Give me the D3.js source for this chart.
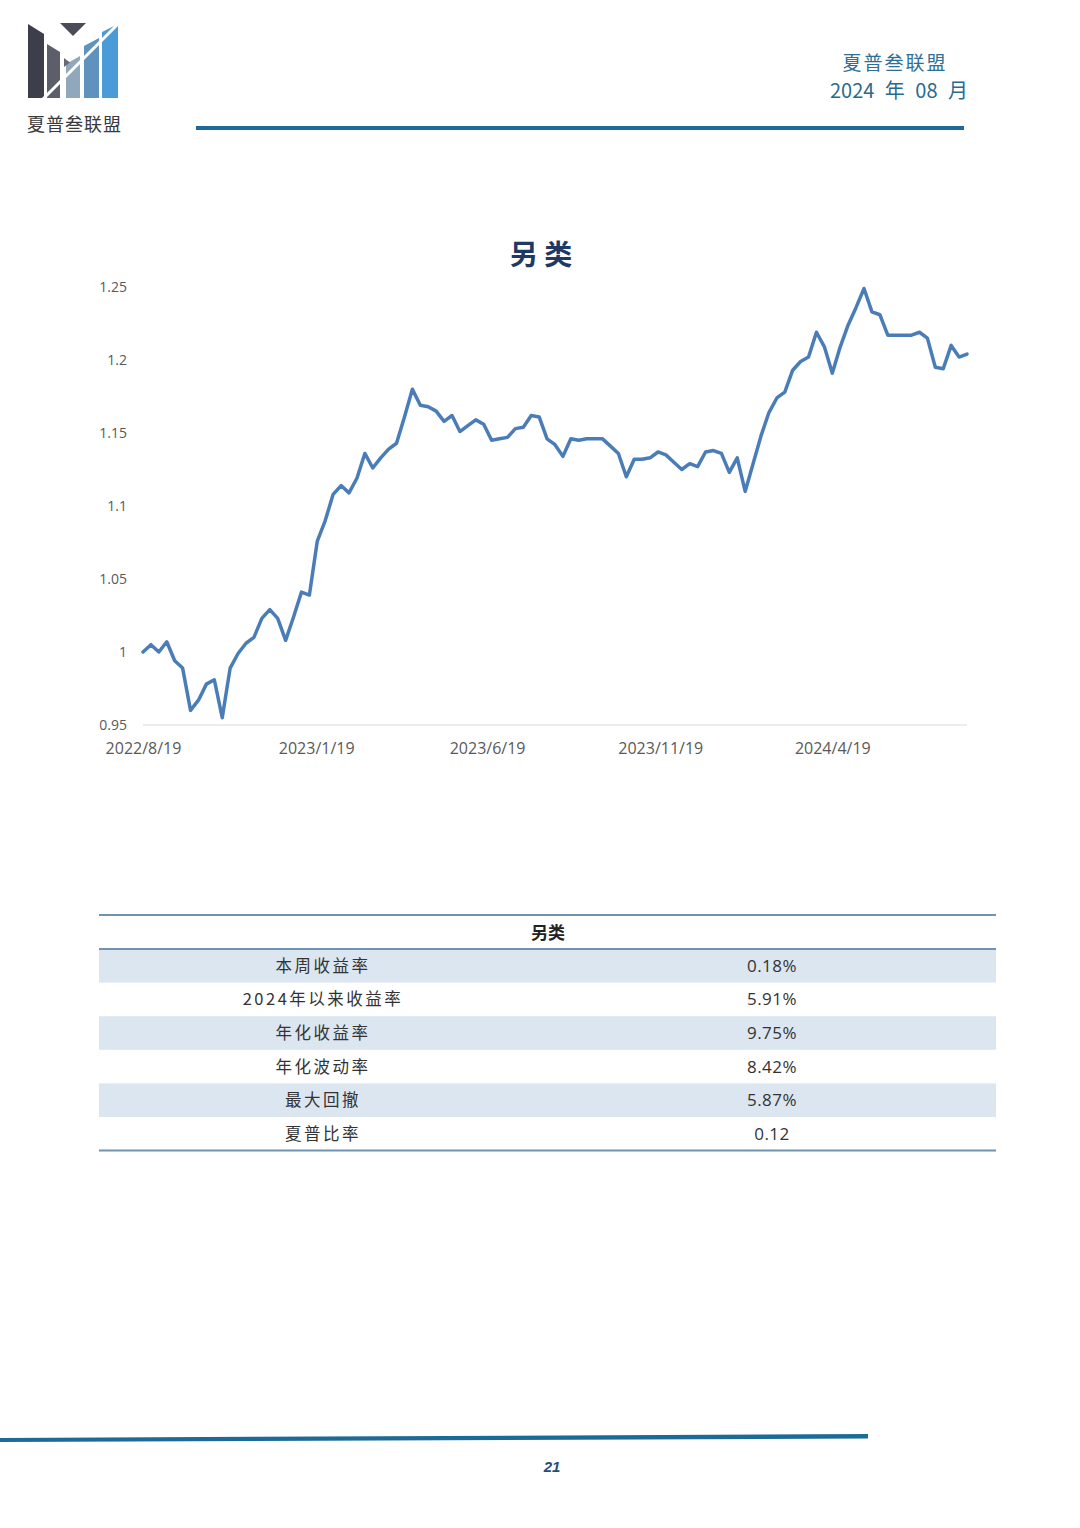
<!DOCTYPE html>
<html><head><meta charset="utf-8">
<script src="https://cdn.jsdelivr.net/npm/d3@7"></script>
<style>
html,body{margin:0;padding:0;background:#fff;}
svg{display:block;}
</style></head>
<body>
<svg id="page" width="1080" height="1528"></svg>
<script>
// ---------------- data ----------------
const startDate = "2022-08-19";           // first weekly observation
const values = [
 1.000,1.005,1.000,1.007,0.994,0.989,0.960,0.967,0.978,0.981,
 0.955,0.989,0.999,1.006,1.010,1.023,1.029,1.023,1.008,1.024,
 1.041,1.039,1.076,1.090,1.108,1.114,1.109,1.119,1.136,1.126,
 1.133,1.139,1.143,1.161,1.180,1.169,1.168,1.165,1.158,1.162,
 1.151,1.155,1.159,1.156,1.145,1.146,1.147,1.153,1.154,1.162,
 1.161,1.146,1.142,1.134,1.146,1.145,1.146,1.146,1.146,1.141,
 1.136,1.120,1.132,1.132,1.133,1.137,1.135,1.130,1.125,1.129,
 1.127,1.137,1.138,1.136,1.123,1.133,1.110,1.129,1.148,1.164,
 1.174,1.178,1.193,1.199,1.202,1.219,1.209,1.191,1.209,1.224,
 1.236,1.249,1.233,1.231,1.217,1.217,1.217,1.217,1.219,1.215,
 1.195,1.194,1.210,1.202,1.204
];
const xTickLabels = ["2022/8/19","2023/1/19","2023/6/19","2023/11/19","2024/4/19"];
const yTicks = [0.95,1,1.05,1.1,1.15,1.2,1.25];
const yTickLabels = ["0.95","1","1.05","1.1","1.15","1.2","1.25"];
const chartTitle = "另 类";
const tableTitle = "另类";
const metricNames = ["本周收益率","2024年以来收益率","年化收益率","年化波动率","最大回撤","夏普比率"];
const metricValues = ["0.18%","5.91%","9.75%","8.42%","5.87%","0.12"];
const headerOrg = "夏普叁联盟";
const headerDate = "2024 年 08 月";
const pageNumber = "21";

// ---------------- page ----------------
const svg = d3.select("#page");
const cjk = "'Noto Sans CJK SC','Noto Sans',sans-serif";
const latin = "'Open Sans','Noto Sans',sans-serif";

// logo
const logo = svg.append("g");
logo.append("polygon").attr("points","28,24 44,34 44,98 28,98").attr("fill","#3c3f4b");
logo.append("polygon").attr("points","60,23 86,23 73,36").attr("fill","#4a4d58");
logo.append("polygon").attr("points","47,44 60,52 60,98 47,98").attr("fill","#5c5f6a");
logo.append("polygon").attr("points","66,64 80,56 80,98 66,98").attr("fill","#8fa8bb");
logo.append("polygon").attr("points","84,46 99,38 99,98 84,98").attr("fill","#5f92bc");
logo.append("polygon").attr("points","102,32 118,24 118,98 102,98").attr("fill","#4a9bd8");
logo.append("line").attr("x1",40).attr("y1",102).attr("x2",120).attr("y2",22)
  .attr("stroke","#fff").attr("stroke-width",3);
logo.append("polygon").attr("points","64,58 64,67 70,62.5").attr("fill","#666a74");
logo.append("text").attr("x",27).attr("y",131).text(headerOrg)
  .attr("font-family",cjk).attr("font-size",18).attr("letter-spacing",1).attr("fill","#3a3a3a");

// header right
svg.append("text").attr("x",895).attr("y",70).attr("text-anchor","middle").text(headerOrg)
  .attr("font-family",cjk).attr("font-size",19).attr("letter-spacing",2).attr("fill","#2f6f95");
svg.append("text").attr("x",968).attr("y",98).attr("text-anchor","end").text(headerDate)
  .attr("font-family",cjk).attr("font-size",20).attr("word-spacing",6)
  .style("white-space","pre").attr("fill","#2b6a8f");
svg.append("line").attr("x1",196).attr("x2",964).attr("y1",128).attr("y2",128)
  .attr("stroke","#1d6a96").attr("stroke-width",4);

// ---------------- chart ----------------
const parse = d3.timeParse("%Y-%m-%d");
const parseTick = d3.timeParse("%Y/%m/%d");
const t0 = parse(startDate);
const series = values.map((v,i) => ({date: d3.timeDay.offset(t0, 7*i), value: v}));

const x = d3.scaleTime().domain(d3.extent(series, d => d.date)).range([143, 967]);
const y = d3.scaleLinear().domain([0.95, 1.25]).range([725, 287]);

svg.append("text").attr("x",541).attr("y",265).attr("text-anchor","middle").text(chartTitle)
  .attr("font-family",cjk).attr("font-size",28).attr("font-weight",700).attr("fill","#1f3864");

const yAxis = d3.axisLeft(y).tickValues(yTicks).tickSize(0).tickPadding(16)
  .tickFormat((d,i) => yTickLabels[i]);
const gy = svg.append("g").attr("transform","translate(143,0)").call(yAxis);
gy.select(".domain").remove();
gy.selectAll("text").attr("font-family",latin).attr("font-size",14).attr("fill","#595959");

const xTickDates = xTickLabels.map(s => parseTick(s));
const xAxis = d3.axisBottom(x).tickValues(xTickDates).tickSize(0).tickPadding(18)
  .tickFormat((d,i) => xTickLabels[i]);
const gx = svg.append("g").attr("transform","translate(0,725)").call(xAxis);
gx.select(".domain").attr("stroke","#d9d9d9").attr("stroke-width",1)
  .attr("d", `M${x.range()[0]},0H${x.range()[1]}`);
gx.selectAll("text").attr("font-family",latin).attr("font-size",16).attr("fill","#595959");

const line = d3.line().x(d => x(d.date)).y(d => y(d.value));
svg.append("path").datum(series).attr("d", line)
  .attr("fill","none").attr("stroke","#4a7db8").attr("stroke-width",3.5)
  .attr("stroke-linejoin","round").attr("stroke-linecap","round");

// ---------------- table ----------------
const tLeft = 99, tRight = 996, tTop = 915, headH = 34, rowH = 33.6;
const colX = [323, 772];
const tb = svg.append("g");
metricNames.forEach((name, i) => {
  const ry = tTop + headH + i*rowH;
  if (i % 2 === 0) tb.append("rect").attr("x",tLeft).attr("y",ry).attr("width",tRight-tLeft)
    .attr("height",rowH).attr("fill","#dce6f1");
  tb.append("text").attr("x",colX[0]).attr("y",ry+rowH/2+6).attr("text-anchor","middle").text(name)
    .attr("font-family",cjk).attr("font-size",16.5).attr("letter-spacing",2.5).attr("fill","#333");
  tb.append("text").attr("x",colX[1]).attr("y",ry+rowH/2+6).attr("text-anchor","middle").text(metricValues[i])
    .attr("font-family",latin).attr("font-size",17).attr("letter-spacing",0.5).attr("fill","#333");
});
tb.append("text").attr("x",548).attr("y",tTop+headH/2+7).attr("text-anchor","middle").text(tableTitle)
  .attr("font-family",cjk).attr("font-size",17).attr("font-weight",700).attr("fill","#222");
const tBottom = tTop + headH + metricNames.length*rowH;
[tTop, tTop+headH, tBottom].forEach(ly => {
  tb.append("line").attr("x1",tLeft).attr("x2",tRight).attr("y1",ly).attr("y2",ly)
    .attr("stroke","#6f93b0").attr("stroke-width",2);
});

// ---------------- footer ----------------
svg.append("polygon").attr("points","0,1438 868,1434 868,1438.5 0,1442").attr("fill","#1d6a96");
svg.append("text").attr("x",552).attr("y",1472).attr("text-anchor","middle").text(pageNumber)
  .attr("font-family","'Liberation Sans',sans-serif").attr("font-size",15).attr("font-weight",700)
  .attr("font-style","italic").attr("fill","#1f4e79");
</script>
</body></html>
